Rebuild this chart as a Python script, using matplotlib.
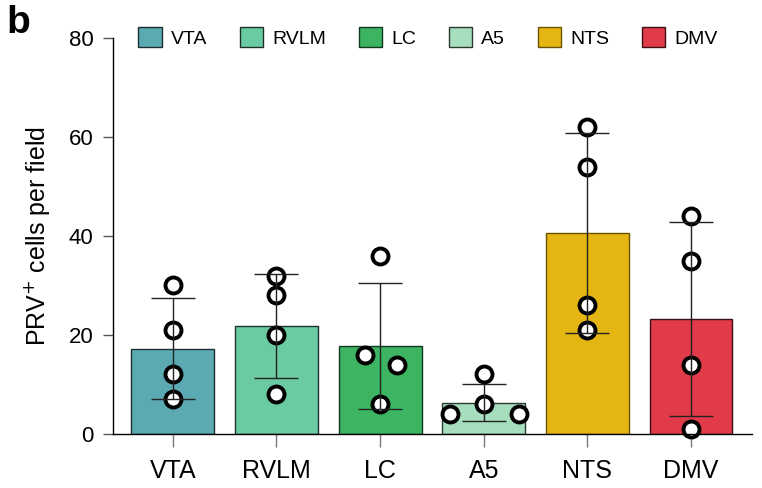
import matplotlib.pyplot as plt
import numpy as np

plt.rcParams['font.family'] = ['Liberation Sans', 'DejaVu Sans']

regions = ['VTA', 'RVLM', 'LC', 'A5', 'NTS', 'DMV']
colors = ['#5ba9b3', '#6acba2', '#3cb462', '#a7dfbe', '#e5b513', '#e13a48']
edges = ['#1e2e30', '#1e3028', '#123820', '#2a3a30', '#6b5200', '#3a1015']

means = [17.2, 21.8, 17.8, 6.3, 40.6, 23.2]
sds = [10.2, 10.6, 12.7, 3.8, 20.3, 19.6]

points = [
    [30, 21, 12, 7],
    [32, 28, 20, 8],
    [36, 16, 14, 6],
    [12, 6, 4, 4],
    [62, 54, 26, 21],
    [44, 35, 14, 1],
]
# horizontal jitter of the dots, in bar units
jitter = [
    [0, 0, 0, 0],
    [0, 0, 0, 0],
    [0, -0.145, 0.16, 0],
    [0, 0, -0.33, 0.34],
    [0, 0, 0, 0],
    [0, 0, 0, 0],
]

fig = plt.figure(figsize=(7.62, 4.88), dpi=100)
ax = fig.add_axes([0.148, 0.111, 0.839, 0.811])

x = np.arange(len(regions))
bars = ax.bar(x, means, width=0.8, color=colors, edgecolor=edges, linewidth=1.0,
              label=regions, zorder=1)

for i in range(len(regions)):
    xs = x[i] + np.array(jitter[i])
    ax.plot(xs, points[i], 'o', ms=11.5, mfc='white', mec='black', mew=2.8,
            zorder=2, clip_on=False)

ax.errorbar(x, means, yerr=sds, fmt='none', ecolor='#222222', elinewidth=1.0,
            capsize=15.5, capthick=1.0, zorder=3)

ax.set_xlim(-0.58, 5.59)
ax.set_ylim(0, 80)
ax.set_yticks([0, 20, 40, 60, 80])
ax.set_xticks(x)
ax.set_xticklabels(regions)

for s in ['top', 'right']:
    ax.spines[s].set_visible(False)
ax.spines['left'].set_linewidth(1.0)
ax.spines['bottom'].set_linewidth(1.0)

ax.tick_params(axis='y', length=7, width=1, color='#555555', labelsize=16, pad=7)
ax.tick_params(axis='x', length=9, width=1, color='#777777', labelsize=18, pad=9)

ax.set_ylabel('PRV$^{+}$ cells per field', fontsize=18, labelpad=12)

ax.legend(bars, regions, loc='upper center', bbox_to_anchor=(0.493, 1.047), ncol=6,
          frameon=False, fontsize=14, handlelength=1.2, handleheight=1.2,
          handletextpad=0.45, columnspacing=1.7, borderaxespad=0)

fig.text(0.008, 0.99, 'b', fontsize=28, fontweight='bold', va='top', ha='left')

fig.savefig('out.png', dpi=100)
